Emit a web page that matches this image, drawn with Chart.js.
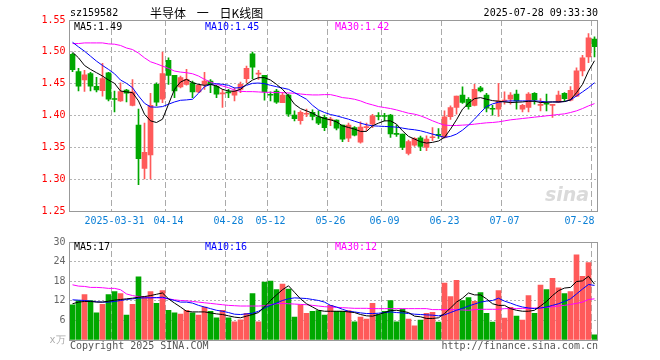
<!DOCTYPE html>
<html>
<head>
<meta charset="utf-8">
<script src="https://cdn.jsdelivr.net/npm/chart.js@4/dist/chart.umd.min.js"></script>
<style>
  body { margin: 0; background: #fff; width: 660px; height: 360px; position: relative; overflow: hidden;
         font-family: "DejaVu Sans Mono", monospace; font-size: 10px; }
  canvas { position: absolute; left: 0; }
  .t { position: absolute; white-space: pre; line-height: 12px; }
</style>
</head>
<body>
<canvas id="kChart" width="660" height="232" style="top:0"></canvas>
<canvas id="volChart" width="660" height="128" style="top:232px"></canvas>

<div class="t" style="left:70px;top:7px">sz159582</div>
<div class="t" style="left:150px;top:5px;font-family:'Noto Sans CJK SC';font-size:12px;line-height:16px;word-spacing:8px">半导体 一 日K线图</div>
<div class="t" style="right:62px;top:7px">2025-07-28 09:33:30</div>

<div class="t" style="left:74px;top:21px;color:#000">MA5:1.49</div>
<div class="t" style="left:205px;top:21px;color:#0000ff">MA10:1.45</div>
<div class="t" style="left:335px;top:21px;color:#ff00ff">MA30:1.42</div>
<div class="t" style="left:545px;top:183px;font:italic bold 19px 'DejaVu Sans';color:#dadada">sina</div>

<div class="t" style="left:74px;top:241px;color:#000">MA5:17</div>
<div class="t" style="left:205px;top:241px;color:#0000ff">MA10:16</div>
<div class="t" style="left:335px;top:241px;color:#ff00ff">MA30:12</div>

<div class="t" style="left:70px;top:340px;color:#555">Copyright 2025 SINA.COM</div>
<div class="t" style="right:62px;top:340px;color:#555">http://finance.sina.com.cn</div>

<script>
const dates = [
  "2025-03-20","2025-03-21","2025-03-24","2025-03-25","2025-03-26","2025-03-27","2025-03-28","2025-03-31","2025-04-01","2025-04-02",
  "2025-04-03","2025-04-07","2025-04-08","2025-04-09","2025-04-10","2025-04-11","2025-04-14","2025-04-15","2025-04-16","2025-04-17",
  "2025-04-18","2025-04-21","2025-04-22","2025-04-23","2025-04-24","2025-04-25","2025-04-28","2025-04-29","2025-04-30","2025-05-06",
  "2025-05-07","2025-05-08","2025-05-09","2025-05-12","2025-05-13","2025-05-14","2025-05-15","2025-05-16","2025-05-19","2025-05-20",
  "2025-05-21","2025-05-22","2025-05-23","2025-05-26","2025-05-27","2025-05-28","2025-05-29","2025-05-30","2025-06-03","2025-06-04",
  "2025-06-05","2025-06-06","2025-06-09","2025-06-10","2025-06-11","2025-06-12","2025-06-13","2025-06-16","2025-06-17","2025-06-18",
  "2025-06-19","2025-06-20","2025-06-23","2025-06-24","2025-06-25","2025-06-26","2025-06-27","2025-06-30","2025-07-01","2025-07-02",
  "2025-07-03","2025-07-04","2025-07-07","2025-07-08","2025-07-09","2025-07-10","2025-07-11","2025-07-14","2025-07-15","2025-07-16",
  "2025-07-17","2025-07-18","2025-07-21","2025-07-22","2025-07-23","2025-07-24","2025-07-25","2025-07-28"
];
const shownDates = ["2025-03-31","2025-04-14","2025-04-28","2025-05-12","2025-05-26","2025-06-09","2025-06-23","2025-07-07","2025-07-28"];

const openP = [
  1.496,1.469,1.456,1.466,1.446,1.439,1.467,1.4255,1.423,1.440,
  1.416,1.385,1.317,1.338,1.449,1.4255,1.4865,1.463,1.445,1.449,
  1.4515,1.437,1.449,1.454,1.446,1.434,1.436,1.432,1.441,1.458,
  1.497,1.465,1.463,1.432,1.4385,1.420,1.432,1.4005,1.392,1.402,
  1.405,1.398,1.397,1.393,1.393,1.385,1.3645,1.381,1.358,1.381,
  1.3865,1.399,1.399,1.4005,1.3705,1.371,1.3405,1.3535,1.365,1.350,
  1.365,1.369,1.3655,1.398,1.4125,1.432,1.4255,1.416,1.4435,1.432,
  1.410,1.410,1.4225,1.4255,1.4335,1.410,1.4125,1.435,1.416,1.419,
  1.416,1.421,1.435,1.424,1.4305,1.470,1.492,1.520
];
const closeP = [
  1.472,1.446,1.464,1.446,1.440,1.458,1.4255,1.4252,1.4375,1.435,
  1.437,1.332,1.342,1.416,1.421,1.466,1.463,1.4385,1.4595,1.457,
  1.437,1.4475,1.454,1.449,1.4335,1.4355,1.4355,1.4385,1.449,1.474,
  1.476,1.4656,1.437,1.4318,1.421,1.432,1.402,1.395,1.405,1.4022,
  1.3985,1.388,1.381,1.3932,1.380,1.363,1.385,1.369,1.382,1.3812,
  1.3995,1.3985,1.3985,1.371,1.3703,1.350,1.359,1.364,1.3515,1.363,
  1.3656,1.3688,1.398,1.4125,1.4305,1.4205,1.414,1.441,1.4385,1.4115,
  1.4098,1.423,1.423,1.432,1.423,1.416,1.4335,1.4245,1.4166,1.4177,
  1.4166,1.432,1.4265,1.4395,1.470,1.4905,1.522,1.508
];
const highP = [
  1.498,1.474,1.471,1.468,1.460,1.482,1.468,1.4385,1.4515,1.441,
  1.4565,1.410,1.388,1.435,1.4515,1.4995,1.4905,1.463,1.462,1.4725,
  1.454,1.449,1.468,1.4565,1.4475,1.441,1.441,1.4435,1.4525,1.4775,
  1.4995,1.471,1.463,1.437,1.441,1.436,1.4335,1.4075,1.4075,1.410,
  1.409,1.4075,1.4005,1.397,1.3932,1.385,1.388,1.3825,1.390,1.388,
  1.402,1.4045,1.4035,1.402,1.385,1.371,1.3615,1.3655,1.3675,1.368,
  1.381,1.3795,1.4075,1.415,1.4305,1.445,1.428,1.449,1.446,1.435,
  1.416,1.4505,1.437,1.436,1.440,1.4175,1.436,1.436,1.4265,1.4335,
  1.4166,1.4385,1.436,1.4455,1.475,1.4945,1.5287,1.5235
];
const lowP = [
  1.469,1.4385,1.438,1.4385,1.437,1.4305,1.423,1.4055,1.422,1.4213,
  1.415,1.2915,1.3005,1.3005,1.415,1.420,1.449,1.428,1.4435,1.4475,
  1.428,1.436,1.441,1.436,1.428,1.4125,1.428,1.423,1.436,1.4515,
  1.458,1.4565,1.424,1.423,1.419,1.420,1.3985,1.3915,1.3865,1.398,
  1.393,1.3855,1.376,1.384,1.3775,1.3588,1.3588,1.368,1.3567,1.376,
  1.381,1.393,1.3915,1.3655,1.367,1.3463,1.338,1.3515,1.3448,1.3448,
  1.3605,1.364,1.3645,1.394,1.402,1.419,1.410,1.415,1.437,1.4057,
  1.4005,1.3985,1.4177,1.4177,1.410,1.4057,1.4057,1.4177,1.4073,1.4073,
  1.397,1.420,1.423,1.423,1.4297,1.462,1.483,1.4922
];
const ma5 = [
  1.4995,1.4906,1.4786,1.4724,1.4672,1.462,1.4557,1.4505,1.4385,1.437,
  1.4359,1.4229,1.402,1.3916,1.389,1.3942,1.4177,1.4411,1.4526,1.4568,
  1.4515,1.4489,1.4474,1.4489,1.4463,1.4411,1.4385,1.438,1.4411,1.4489,
  1.4557,1.4594,1.4594,1.4557,1.4489,1.4411,1.4307,1.4177,1.4109,1.4073,
  1.4036,1.3984,1.3953,1.3932,1.3901,1.3838,1.3812,1.3786,1.375,1.375,
  1.3838,1.388,1.3916,1.3916,1.3864,1.376,1.3672,1.363,1.3588,1.3567,
  1.3578,1.3599,1.3656,1.3786,1.3932,1.4099,1.4192,1.4265,1.4281,1.4255,
  1.4234,1.4224,1.4213,1.4203,1.4208,1.4213,1.4224,1.4224,1.4203,1.4208,
  1.4213,1.4213,1.4219,1.4245,1.4359,1.4489,1.4697,1.486
];
const ma10 = [
  1.5151,1.5078,1.501,1.4932,1.4854,1.4786,1.4724,1.4656,1.4557,1.4505,
  1.4437,1.4307,1.4192,1.4135,1.413,1.414,1.4177,1.4213,1.4239,1.4245,
  1.4255,1.4349,1.4453,1.4489,1.45,1.4489,1.4474,1.4432,1.4437,1.4474,
  1.4505,1.451,1.45,1.4474,1.4453,1.4432,1.4411,1.4359,1.4307,1.4255,
  1.4161,1.4088,1.4047,1.4015,1.3995,1.3968,1.3942,1.3911,1.388,1.3854,
  1.3838,1.3833,1.3828,1.3823,1.3817,1.3802,1.3786,1.3776,1.376,1.3734,
  1.3708,1.3682,1.3656,1.3672,1.3708,1.377,1.3849,1.3943,1.4047,1.414,
  1.4182,1.4208,1.4224,1.4229,1.4229,1.4229,1.4229,1.4229,1.4224,1.4213,
  1.4213,1.4213,1.4219,1.4245,1.4307,1.437,1.4437,1.4516
];
const ma30 = [
  1.513,1.513,1.514,1.514,1.514,1.514,1.5125,1.512,1.51,1.506,
  1.5036,1.498,1.4906,1.4844,1.4812,1.4776,1.474,1.4698,1.4682,1.4672,
  1.4656,1.462,1.4568,1.4526,1.4489,1.4463,1.4437,1.440,1.438,1.4375,
  1.4375,1.437,1.4364,1.4364,1.4359,1.4359,1.4354,1.4349,1.4338,1.4328,
  1.4323,1.4323,1.4328,1.4328,1.4307,1.4281,1.4271,1.4255,1.4229,1.4192,
  1.4167,1.414,1.4125,1.4109,1.4088,1.4062,1.4036,1.4021,1.3995,1.3958,
  1.3917,1.388,1.3849,1.3843,1.3843,1.3849,1.3854,1.3864,1.3875,1.3885,
  1.389,1.39,1.3916,1.3932,1.3942,1.3953,1.3963,1.3974,1.3984,1.3995,
  1.4005,1.4016,1.4026,1.4047,1.4073,1.4109,1.4151,1.4187
];

// volume, 万手
const volume = [
  10.8,12.1,13.9,12.1,8.3,10.9,13.9,14.8,14.2,7.6,
  10.9,19.3,13.3,14.8,11.2,15.1,9.1,8.3,7.9,9.1,
  8.3,7.6,10.1,8.8,6.8,9.1,6.8,5.6,6.2,8.2,
  14.2,5.6,17.7,18.0,15.4,17.1,15.6,7.0,10.8,8.2,
  8.8,9.0,7.6,10.6,8.8,8.8,9.0,5.6,7.0,6.4,
  11.2,7.8,8.8,12.1,5.6,9.5,6.4,4.3,6.1,8.2,
  8.5,5.5,17.4,13.3,18.3,12.1,13.0,11.8,14.5,8.2,
  5.5,15.1,6.7,10.0,7.3,6.1,13.6,8.2,16.8,15.4,
  18.9,16.0,14.2,14.8,26.1,19.5,23.7,1.6
];
const volMa5 = [
  11.1,11.6,11.8,11.8,11.6,11.6,11.9,12.2,12.4,12.6,
  12.8,13.1,13.3,13.6,14.0,14.4,12.6,11.3,10.1,8.8,
  8.6,8.6,8.6,8.3,8.0,7.8,7.4,7.0,6.8,7.3,
  7.8,8.4,10.1,12.1,13.8,15.4,16.6,14.6,12.6,11.1,
  10.1,9.1,8.8,8.8,8.8,8.8,8.6,8.4,7.8,7.4,
  7.3,7.8,8.4,9.0,9.1,8.8,8.4,7.3,7.1,6.6,
  6.6,6.8,8.1,9.8,11.6,12.8,14.4,13.8,13.8,12.6,
  11.1,10.6,10.6,9.6,9.1,8.8,8.8,9.1,10.4,11.8,
  13.6,15.1,15.9,16.1,17.9,18.1,19.5,17.1
];
const volMa10 = [
  12.3,12.2,12.1,11.9,11.7,11.6,11.6,11.8,12.1,12.4,
  12.6,12.8,12.9,12.9,13.0,13.1,12.6,12.1,11.6,11.6,
  11.3,10.6,10.1,9.6,9.1,8.8,8.4,7.9,7.8,8.0,
  8.2,8.8,9.8,10.6,11.3,12.1,12.6,12.9,12.8,12.7,
  12.4,12.1,11.6,10.6,10.1,9.4,8.8,8.6,8.3,8.1,
  8.1,8.2,8.4,8.6,8.4,8.3,8.1,7.9,7.8,7.7,
  7.6,7.4,7.7,8.4,9.1,9.7,10.4,11.0,11.6,11.9,
  12.1,12.8,11.9,11.3,10.6,10.1,9.8,9.6,9.8,10.1,
  10.6,11.1,11.8,12.6,14.1,15.6,17.0,16.7
];
const volMa30 = [
  16.9,16.5,16.4,16.1,16.1,16.0,15.8,15.8,15.4,14.1,
  13.6,13.3,13.1,13.0,12.9,12.8,12.6,12.3,12.1,12.0,
  11.8,11.6,11.4,11.2,11.0,10.8,10.6,10.5,10.4,10.4,
  10.4,10.4,10.5,10.8,11.1,11.2,11.1,11.0,10.9,10.8,
  10.6,10.4,10.2,10.1,10.0,9.9,9.8,9.7,9.7,9.7,
  9.6,9.6,9.6,9.6,9.6,9.6,9.6,9.6,9.6,9.6,
  9.3,9.3,9.3,9.3,9.3,9.2,9.1,9.3,9.4,9.4,
  9.4,9.4,9.6,9.6,9.6,9.7,9.7,9.8,9.8,10.0,
  10.2,10.4,10.6,10.9,11.2,11.6,12.4,12.6
];

const RED = "#ff5a5a";
const GREEN = "#00a800";
const CLEAR = "rgba(0,0,0,0)";
const candleColors = closeP.map((c, i) => (c >= openP[i] ? RED : GREEN));

Chart.defaults.font.family = "'DejaVu Sans Mono', monospace";
Chart.defaults.font.size = 10;

const framePlugin = {
  id: "frame",
  afterDraw(chart) {
    const { ctx, chartArea: a } = chart;
    ctx.save();
    ctx.strokeStyle = "#999";
    ctx.lineWidth = 1;
    ctx.strokeRect(Math.floor(a.left) + 0.5, Math.floor(a.top) + 0.5,
      Math.round(a.right - a.left), Math.round(a.bottom - a.top));
    ctx.restore();
  },
};

const maLine = (data, color) => ({
  type: "line", data, borderColor: color, borderWidth: 1, pointRadius: 0, tension: 0, order: 0,
});

const dateGrid = (c) => (shownDates.includes(dates[c.index]) ? "#aaa" : CLEAR);

const xTickLabel = (v, i) => {
  if (!shownDates.includes(dates[i])) return "";
  if (i === 7) return dates[i];
  if (i === dates.length - 1) return dates[i].slice(5) + "     ";
  return dates[i].slice(5);
};

new Chart(document.getElementById("kChart"), {
  type: "bar",
  data: {
    labels: dates,
    datasets: [
      { data: dates.map((_, i) => [lowP[i], highP[i]]), backgroundColor: candleColors,
        barThickness: 1, grouped: false, order: 2 },
      { data: dates.map((_, i) => [Math.min(openP[i], closeP[i]), Math.max(openP[i], closeP[i])]),
        backgroundColor: candleColors, barThickness: 5, minBarLength: 1, grouped: false, order: 1 },
      maLine(ma5, "#000000"),
      maLine(ma10, "#0000ff"),
      maLine(ma30, "#ff00ff"),
    ],
  },
  options: {
    responsive: false,
    animation: false,
    events: [],
    layout: { padding: { top: 20, right: 62.5, left: 0, bottom: 0 } },
    plugins: { legend: { display: false }, tooltip: { enabled: false } },
    scales: {
      x: {
        offset: true,
        grid: { offset: true, color: dateGrid, drawTicks: false },
        border: { display: false, dash: [6, 3] },
        ticks: { autoSkip: false, maxRotation: 0, color: "#0a7fd6", padding: 4, callback: xTickLabel },
        afterFit: (s) => { s.height = 21; },
      },
      y: {
        min: 1.25, max: 1.55,
        ticks: { stepSize: 0.05, color: "#ff0000", padding: 4, callback: (v) => v.toFixed(2) },
        grid: { drawTicks: false, color: (c) => (c.tick && c.tick.value > 1.26 && c.tick.value < 1.54 ? "#b4b4b4" : CLEAR) },
        border: { display: false, dash: [2, 2] },
        afterFit: (s) => { s.width = 69.5; },
      },
    },
  },
  plugins: [framePlugin],
});

new Chart(document.getElementById("volChart"), {
  type: "bar",
  data: {
    labels: dates,
    datasets: [
      { data: volume, backgroundColor: candleColors, barThickness: 5, grouped: false, order: 1 },
      maLine(volMa5, "#000000"),
      maLine(volMa10, "#0000ff"),
      maLine(volMa30, "#ff00ff"),
    ],
  },
  options: {
    responsive: false,
    animation: false,
    events: [],
    layout: { padding: { top: 8, right: 62.5, left: 0, bottom: 0 } },
    plugins: { legend: { display: false }, tooltip: { enabled: false } },
    scales: {
      x: {
        offset: true,
        grid: { offset: true, color: dateGrid, drawTicks: false },
        border: { display: false, dash: [6, 3] },
        ticks: { display: false },
        afterFit: (s) => { s.height = 20; },
      },
      y: {
        min: 0, max: 30,
        ticks: { stepSize: 6, padding: 4,
          color: (c) => (c.tick && c.tick.value === 0 ? "#aaa" : "#666"),
          callback: (v) => (v === 0 ? "x万" : v) },
        grid: { drawTicks: false, color: (c) => (c.tick && c.tick.value > 0 && c.tick.value < 30 ? "#b4b4b4" : CLEAR) },
        border: { display: false, dash: [2, 2] },
        afterFit: (s) => { s.width = 69.5; },
      },
    },
  },
  plugins: [framePlugin],
});
</script>
</body>
</html>
